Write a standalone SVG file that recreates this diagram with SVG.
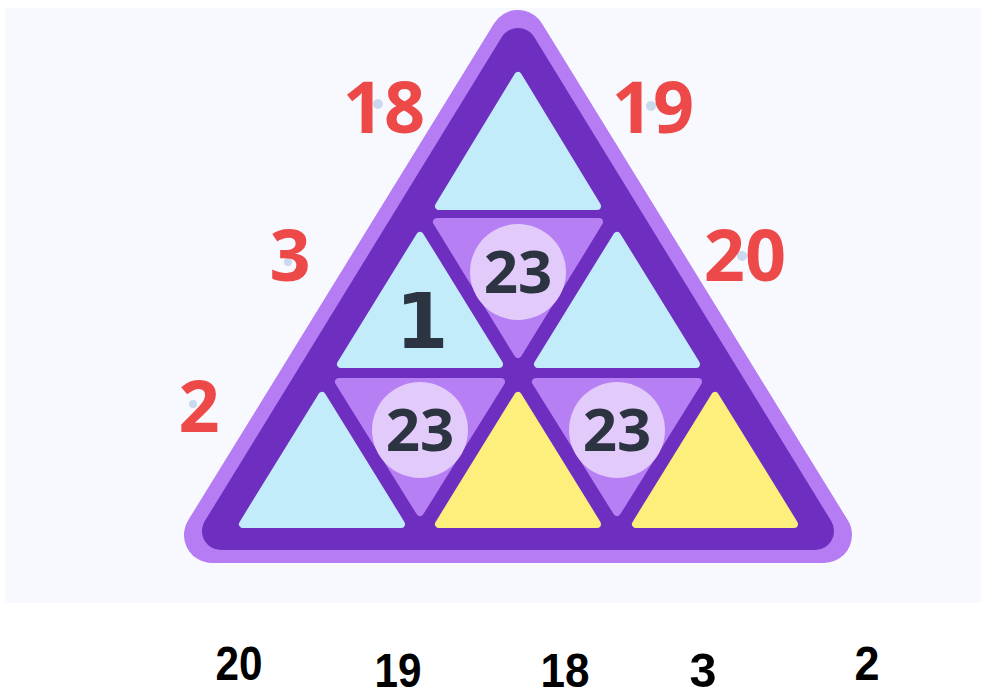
<svg xmlns="http://www.w3.org/2000/svg" width="981" height="693" viewBox="0 0 981 693">
<style>
.cell{stroke-width:8;stroke-linejoin:round}
.blue{fill:#c3ecfb;stroke:#c3ecfb}
.yellow{fill:#fcef7c;stroke:#fcef7c}
.mid{fill:#b77ff4;stroke:#b77ff4}
.disc{fill:#e2cbfa}
.num{font-family:"Noto Sans","DejaVu Sans",sans-serif;font-weight:700;fill:#2b3440;text-anchor:middle}
.red{font-family:"Noto Sans","DejaVu Sans",sans-serif;font-weight:700;font-size:72px;fill:#ee4949;text-anchor:middle}
.dot{fill:#cbd9ef}
.bot{font-family:"Liberation Sans",Arial,sans-serif;font-weight:700;font-size:48px;fill:#000;text-anchor:middle}
</style>
<rect x="0" y="0" width="981" height="693" fill="#ffffff"/>
<rect x="5" y="8" width="976" height="595" fill="#f8f9fe"/>
<g id="frame">
<polygon points="518,38 212,535 824,535" fill="#b57cf4" stroke="#b57cf4" stroke-width="56" stroke-linejoin="round"/>
<polygon points="518,47 221,531 815,531" fill="#6e2fc0" stroke="#6e2fc0" stroke-width="38" stroke-linejoin="round"/>
</g>
<g id="cell-top"><polygon class="cell blue" points="518,76 439,206 597,206"/></g>
<g id="cell-r2-left"><polygon class="cell blue" points="420,236 341,364 499,364"/><text class="num" x="422" y="348" font-size="76" style="font-family:'DejaVu Sans',sans-serif">1</text></g>
<g id="cell-r2-right"><polygon class="cell blue" points="617,236 538,364 696,364"/></g>
<g id="cell-r2-mid"><polygon class="cell mid" points="437,222 599,222 518,354"/><circle class="disc" cx="518" cy="272" r="48"/><text class="num" x="518" y="293" font-size="60">23</text></g>
<g id="cell-r3-1"><polygon class="cell blue" points="322,396 243,524 401,524"/></g>
<g id="cell-r3-2"><polygon class="cell mid" points="339,382 501,382 420,512"/><circle class="disc" cx="420" cy="430" r="48"/><text class="num" x="420" y="451" font-size="60">23</text></g>
<g id="cell-r3-3"><polygon class="cell yellow" points="518,396 439,524 597,524"/></g>
<g id="cell-r3-4"><polygon class="cell mid" points="536,382 698,382 617,512"/><circle class="disc" cx="617" cy="430" r="48"/><text class="num" x="617" y="451" font-size="60">23</text></g>
<g id="cell-r3-5"><polygon class="cell yellow" points="715,396 636,524 794,524"/></g>
<g id="label-18"><circle class="dot" cx="378" cy="104" r="5"/><text class="red" x="384" y="133">18</text></g>
<g id="label-19"><circle class="dot" cx="651" cy="106" r="5"/><text class="red" x="653" y="133">19</text></g>
<g id="label-3"><circle class="dot" cx="288" cy="262" r="4"/><text class="red" x="290" y="281">3</text></g>
<g id="label-20"><circle class="dot" cx="742" cy="256" r="5"/><text class="red" x="745" y="281">20</text></g>
<g id="label-2"><circle class="dot" cx="193" cy="404" r="4"/><text class="red" x="199" y="432">2</text></g>
<g id="answers">
<text class="bot" x="239" y="680" textLength="47" lengthAdjust="spacingAndGlyphs">20</text>
<text class="bot" x="398" y="687" textLength="47" lengthAdjust="spacingAndGlyphs">19</text>
<text class="bot" x="565" y="687" textLength="49" lengthAdjust="spacingAndGlyphs">18</text>
<text class="bot" x="703" y="687" textLength="27" lengthAdjust="spacingAndGlyphs">3</text>
<text class="bot" x="867" y="680" textLength="25" lengthAdjust="spacingAndGlyphs">2</text>
</g>
</svg>
